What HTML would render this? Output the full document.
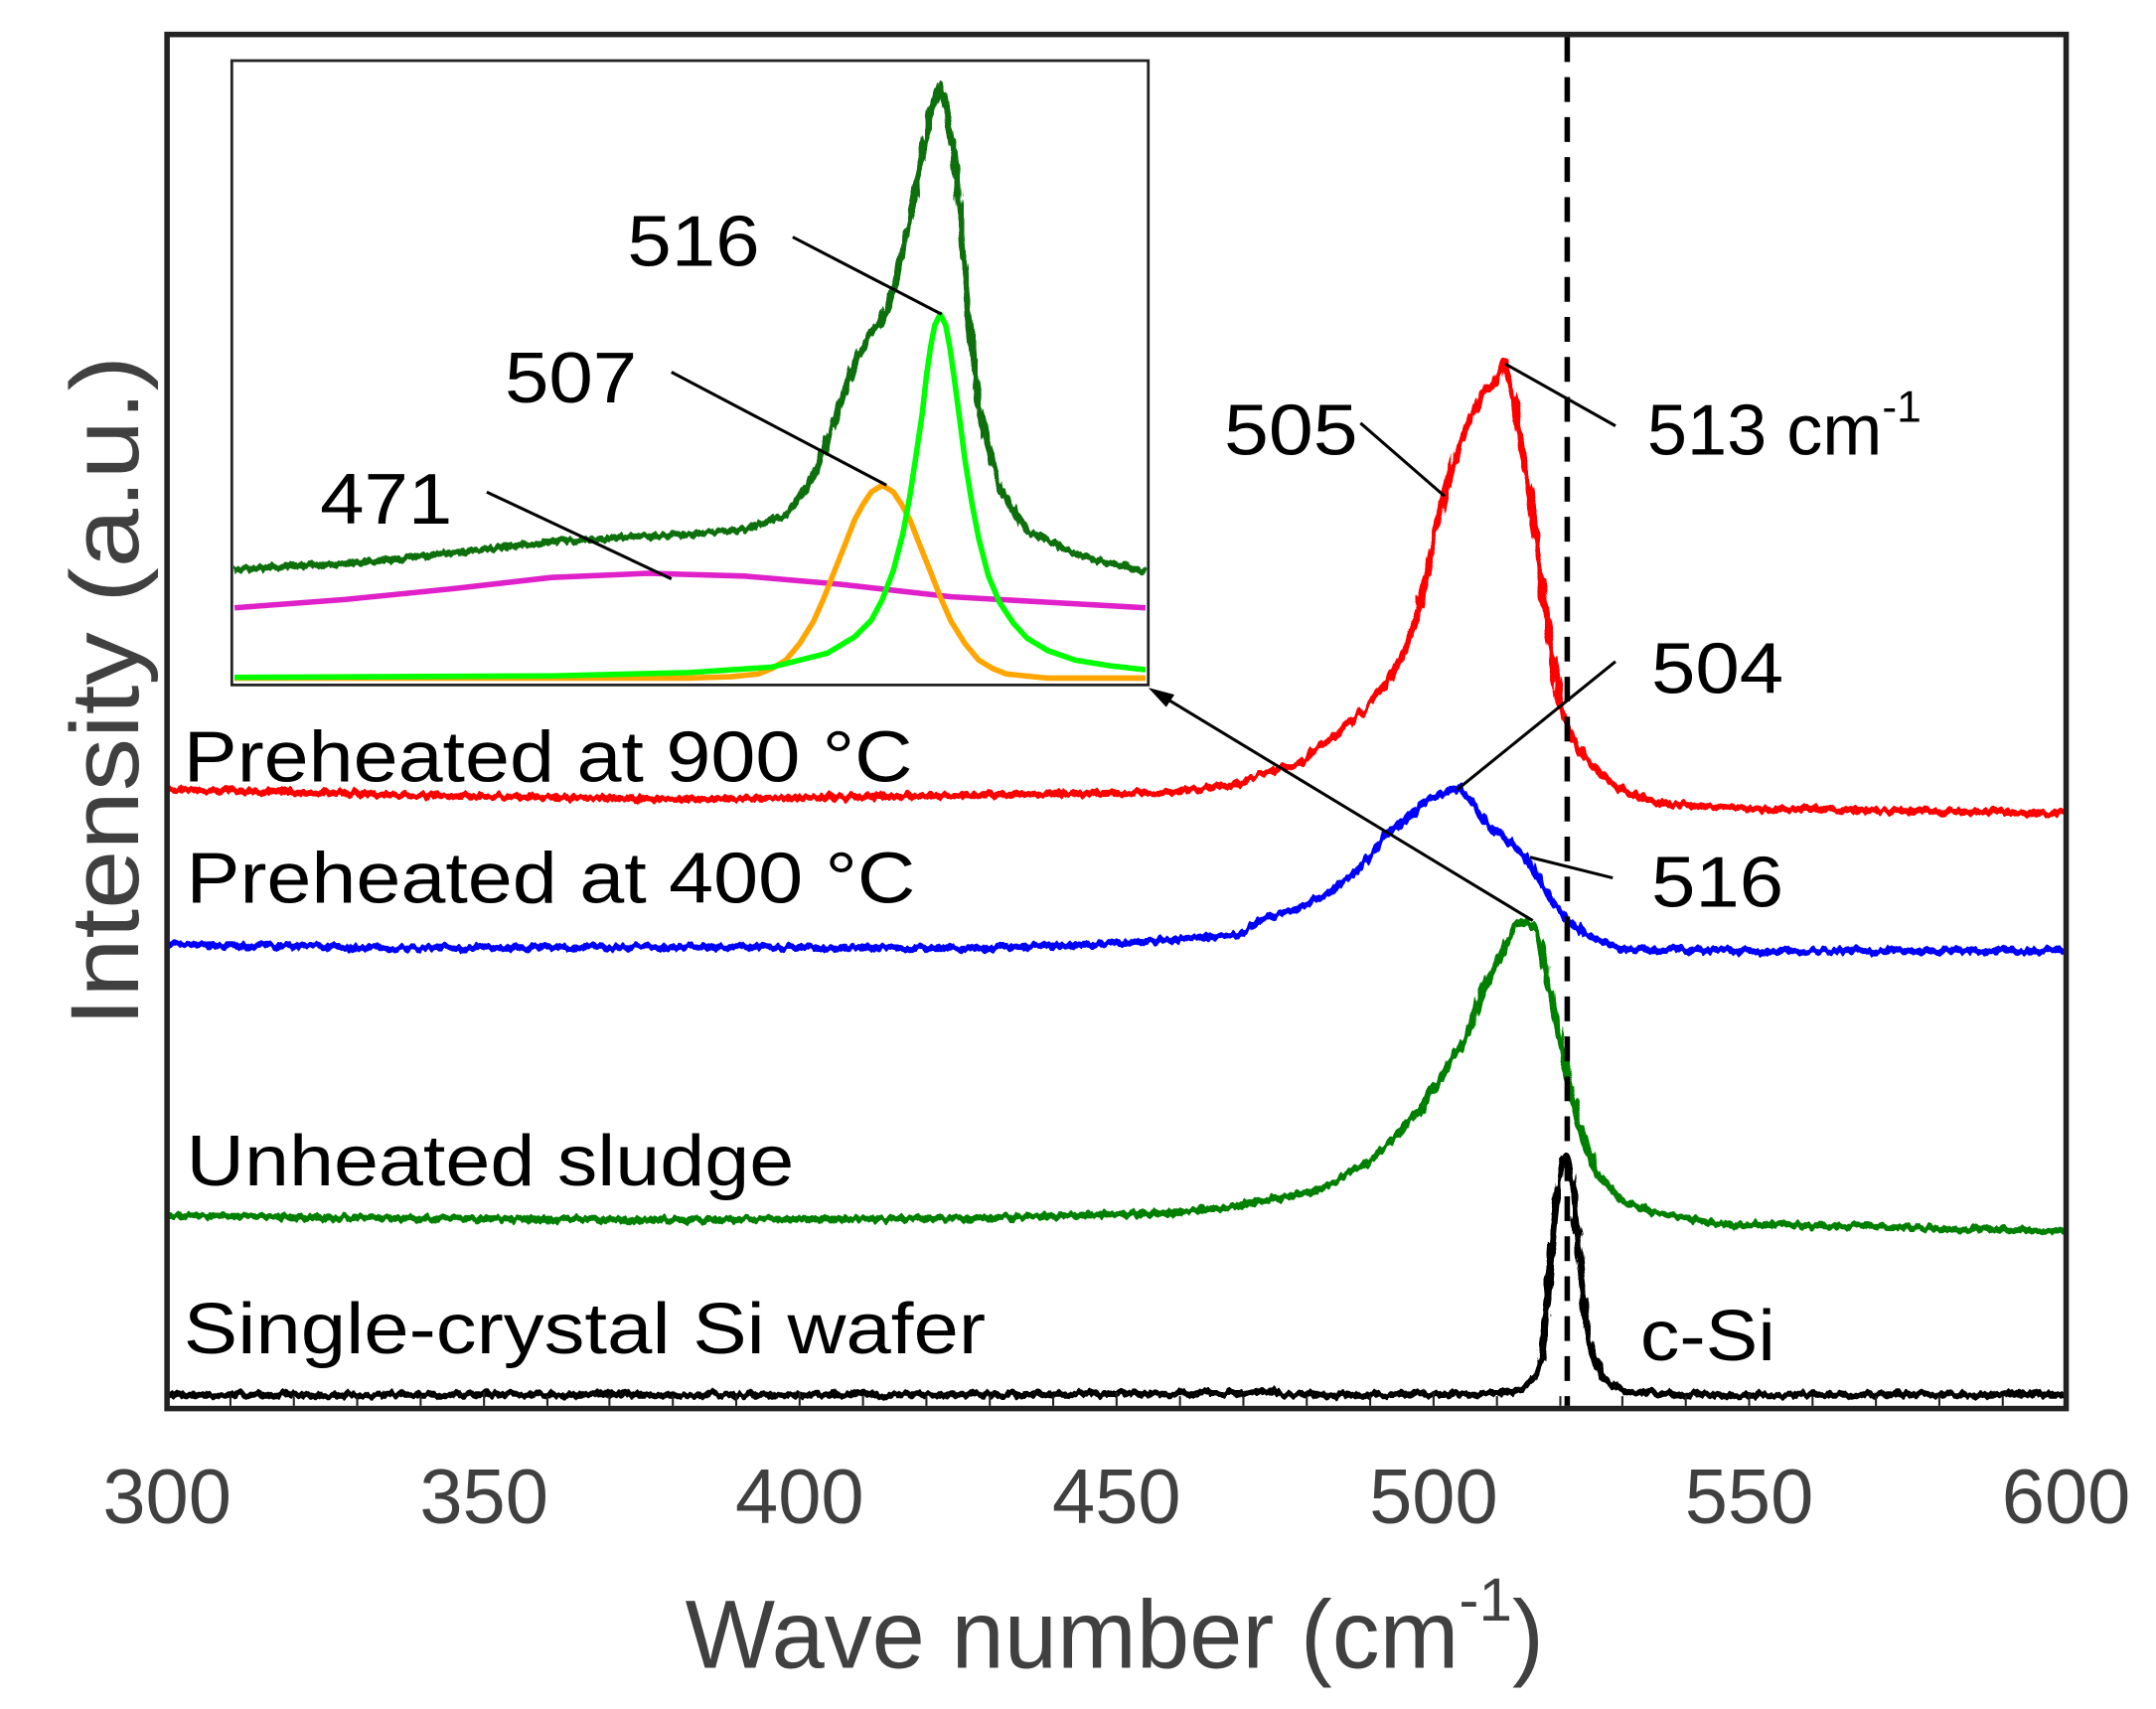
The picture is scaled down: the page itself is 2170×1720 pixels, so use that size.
<!DOCTYPE html>
<html><head><meta charset="utf-8">
<style>html,body{margin:0;padding:0;background:#fff}svg{display:block}</style>
</head><body>
<svg width="2170" height="1720" viewBox="0 0 1564 1240" xmlns="http://www.w3.org/2000/svg" font-family="Liberation Sans, Arial, sans-serif">
<defs>
<filter id="nz" filterUnits="userSpaceOnUse" x="0" y="0" width="1564" height="1240">
<feTurbulence type="fractalNoise" baseFrequency="0.25 0.05" numOctaves="2" seed="3" result="t"/>
<feDisplacementMap in="SourceGraphic" in2="t" scale="7" xChannelSelector="R" yChannelSelector="G"/>
</filter>
<filter id="nz2" filterUnits="userSpaceOnUse" x="0" y="0" width="1564" height="1240">
<feTurbulence type="fractalNoise" baseFrequency="0.3 0.06" numOctaves="2" seed="9" result="t"/>
<feDisplacementMap in="SourceGraphic" in2="t" scale="6" xChannelSelector="R" yChannelSelector="G"/>
</filter>
</defs>
<rect x="0" y="0" width="1564" height="1240" fill="#fff"/>
<g fill="none" stroke-width="5" stroke-linejoin="round" filter="url(#nz)">
<polyline stroke="#000" points="121,1012 300,1012 500,1012 700,1012 900,1011 924,1008 928,1012 1000,1012 1090,1011 1105,1008 1113,1000 1118,985 1123,940 1128,880 1133,842 1136,838 1140,850 1145,905 1150,955 1156,985 1163,1000 1172,1006 1185,1010 1220,1012 1499,1012"/>
<polyline stroke="#008000" points="121,882 300,884 500,885 700,884 850,880 900,875 935,868 960,862 990,845 1010,828 1030,805 1050,775 1065,750 1075,720 1090,690 1100,672 1108,668 1115,675 1125,720 1135,770 1145,815 1158,850 1175,870 1200,880 1250,888 1350,890 1499,893"/>
<polyline stroke="#0000ff" points="121,685 300,688 500,687 700,688 820,684 900,678 920,665 940,660 960,650 980,635 995,620 1005,605 1020,595 1035,580 1050,575 1060,572 1070,585 1080,600 1090,605 1100,615 1110,625 1120,645 1135,665 1150,678 1175,688 1250,690 1499,690"/>
<polyline stroke="#ff0000" points="121,573 300,577 500,580 700,577 850,575 900,568 920,560 940,555 960,540 990,515 1010,490 1020,470 1030,440 1045,370 1050,350 1060,320 1075,285 1085,278 1092,262 1100,300 1110,360 1118,420 1125,470 1132,510 1140,535 1150,550 1160,560 1180,575 1200,582 1250,586 1350,588 1499,590"/>
</g>
<line x1="1137" y1="27" x2="1137" y2="1020" stroke="#000" stroke-width="4" stroke-dasharray="18,11"/>
<rect x="121" y="25" width="1378" height="997" fill="none" stroke="#222" stroke-width="4"/>
<g stroke="#222" stroke-width="1.5">
<line x1="167" y1="1020" x2="167" y2="1013"/><line x1="213" y1="1020" x2="213" y2="1013"/><line x1="259" y1="1020" x2="259" y2="1013"/><line x1="305" y1="1020" x2="305" y2="1013"/><line x1="351" y1="1020" x2="351" y2="1010"/>
<line x1="397" y1="1020" x2="397" y2="1013"/><line x1="442" y1="1020" x2="442" y2="1013"/><line x1="488" y1="1020" x2="488" y2="1013"/><line x1="534" y1="1020" x2="534" y2="1013"/><line x1="580" y1="1020" x2="580" y2="1010"/>
<line x1="626" y1="1020" x2="626" y2="1013"/><line x1="672" y1="1020" x2="672" y2="1013"/><line x1="718" y1="1020" x2="718" y2="1013"/><line x1="764" y1="1020" x2="764" y2="1013"/><line x1="810" y1="1020" x2="810" y2="1010"/>
<line x1="856" y1="1020" x2="856" y2="1013"/><line x1="902" y1="1020" x2="902" y2="1013"/><line x1="948" y1="1020" x2="948" y2="1013"/><line x1="994" y1="1020" x2="994" y2="1013"/><line x1="1040" y1="1020" x2="1040" y2="1010"/>
<line x1="1086" y1="1020" x2="1086" y2="1013"/><line x1="1132" y1="1020" x2="1132" y2="1013"/><line x1="1177" y1="1020" x2="1177" y2="1013"/><line x1="1223" y1="1020" x2="1223" y2="1013"/><line x1="1269" y1="1020" x2="1269" y2="1010"/>
<line x1="1315" y1="1020" x2="1315" y2="1013"/><line x1="1361" y1="1020" x2="1361" y2="1013"/><line x1="1407" y1="1020" x2="1407" y2="1013"/><line x1="1453" y1="1020" x2="1453" y2="1013"/>
</g>
<rect x="168" y="44" width="665" height="453" fill="#fff" stroke="#222" stroke-width="2"/>
<g fill="none" stroke-width="4" stroke-linejoin="round">
<polyline stroke="#e020c8" points="170,441 250,435 330,427 400,419 470,416 540,418 610,424 690,433 760,437 831,441"/>
<polyline stroke="#ffa500" points="170,492 500,492 530,491 550,489 560,485 570,479 580,467 590,451 598,433 605,415 613,395 620,377 626,366 632,357 640,352 648,357 654,366 660,377 667,395 675,415 682,433 690,451 700,467 710,479 720,485 730,489 760,492 831,492"/>
<polyline stroke="#00ff00" points="170,491.5 400,490.4 500,488 560,484 600,474 620,462 632,450 640,435 648,414 655,387 660,360 665,327 669,300 672,273 675,252 678,236 682,228 686,236 689,252 692,273 696,303 700,334 705,365 710,391 717,418 725,437 735,452 745,463 760,472 780,479 805,483 831,486"/>
</g>
<polyline filter="url(#nz2)" fill="none" stroke="#117011" stroke-width="5" stroke-linejoin="round" points="170,413 250,409 330,401 400,393 470,389 500,388 540,384 570,374 590,346 605,307 620,263 630,245 640,232 650,205 660,160 665,130 670,110 675,80 682,62 688,85 694,130 700,200 706,265 712,305 725,355 745,385 780,402 831,415"/>
<g stroke="#000" stroke-width="2.2" fill="none">
<line x1="987" y1="307" x2="1048" y2="360"/>
<line x1="1092" y1="264" x2="1172" y2="309"/>
<line x1="1172" y1="480" x2="1057" y2="573"/>
<line x1="1110" y1="622" x2="1170" y2="637"/>
<line x1="1112" y1="668" x2="843" y2="505"/>
<line x1="575" y1="172" x2="683" y2="228"/>
<line x1="487" y1="270" x2="643" y2="352"/>
<line x1="353" y1="357" x2="487" y2="420"/>
</g>
<polygon points="833,499 852,504 846,513" fill="#000"/>
<g fill="#000" font-size="52">
<text x="133" y="567" textLength="529" lengthAdjust="spacingAndGlyphs">Preheated at 900 °C</text>
<text x="135" y="655" textLength="529" lengthAdjust="spacingAndGlyphs">Preheated at 400 °C</text>
<text x="135" y="860" textLength="441" lengthAdjust="spacingAndGlyphs">Unheated sludge</text>
<text x="133" y="982" textLength="582" lengthAdjust="spacingAndGlyphs">Single-crystal Si wafer</text>
<text x="1190" y="987" textLength="98" lengthAdjust="spacingAndGlyphs">c-Si</text>
<text x="888" y="330" textLength="97" lengthAdjust="spacingAndGlyphs">505</text>
<text x="1195" y="330">513 cm<tspan font-size="32" dy="-24">-1</tspan></text>
<text x="1198" y="503" textLength="96" lengthAdjust="spacingAndGlyphs">504</text>
<text x="1198" y="658" textLength="96" lengthAdjust="spacingAndGlyphs">516</text>
<text x="455" y="193" textLength="96" lengthAdjust="spacingAndGlyphs">516</text>
<text x="366" y="292" textLength="96" lengthAdjust="spacingAndGlyphs">507</text>
<text x="232" y="380" textLength="96" lengthAdjust="spacingAndGlyphs">471</text>
</g>
<g fill="#404040" font-size="56" text-anchor="middle">
<text x="121" y="1105">300</text><text x="351" y="1105">350</text><text x="580" y="1105">400</text>
<text x="810" y="1105">450</text><text x="1040" y="1105">500</text><text x="1269" y="1105">550</text>
<text x="1499" y="1105">600</text>
</g>
<text x="497" y="1210" fill="#404040" font-size="70" textLength="623" lengthAdjust="spacingAndGlyphs">Wave number (cm<tspan font-size="44" dy="-34">-1</tspan><tspan dy="34">)</tspan></text>
<text transform="translate(100,745) rotate(-90)" fill="#404040" font-size="70" textLength="487" lengthAdjust="spacingAndGlyphs">Intensity (a.u.)</text>
</svg>
</body></html>
